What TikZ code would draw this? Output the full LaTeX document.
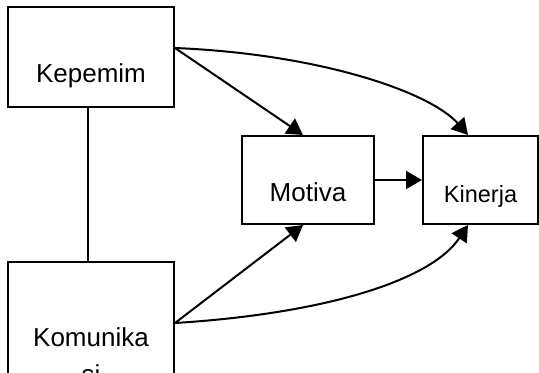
\documentclass[tikz,border=0pt]{standalone}
\usepackage{fontspec}
\setmainfont{Liberation Sans}
\usetikzlibrary{arrows.meta}
\tikzset{
  factor/.style={draw,line width=1pt,font=\fontsize{13}{18.5}\selectfont,align=center},
  link/.style={-{Triangle[length=8pt,width=9pt]},line width=1pt}
}

\begin{document}
\begin{tikzpicture}[x=0.5pt,y=-0.5pt]
\useasboundingbox (0,0) rectangle (539,373);
\clip (0,0) rectangle (539,373);
\node[factor,minimum width=83pt,minimum height=50pt,text height=30pt,text depth=4pt] (kepemim) at (91,57) {Kepemim};
\node[factor,minimum width=83pt,minimum height=85pt,text height=40pt,text depth=4pt] (komunikasi) at (91,347) {Komunika\\si};
\node[factor,minimum width=66pt,minimum height=44pt,text height=26pt,text depth=4pt] (motivasi) at (308,180) {Motiva};
\node[factor,minimum width=57.5pt,minimum height=44pt,text height=27pt,text depth=4pt,font=\fontsize{11.75}{14}\selectfont] (kinerja) at (480.5,180) {Kinerja};
\draw[line width=1pt] ([xshift=-1.5pt]kepemim.south) -- ([xshift=-1.5pt]komunikasi.north);
\draw[link] (motivasi) -- (kinerja);
\draw[link] ([yshift=4.5pt]kepemim.east) -- ([xshift=-2.5pt]motivasi.north);
\draw[link] ([yshift=4.5pt]kepemim.east) .. controls (320,54) and (430,92) .. ([xshift=-6.25pt]kinerja.north);
\draw[link] ([yshift=12pt]komunikasi.east) -- ([xshift=-2.5pt]motivasi.south);
\draw[link] ([yshift=12pt]komunikasi.east) .. controls (320,314) and (430,282) .. ([xshift=-6.25pt]kinerja.south);
\end{tikzpicture}
\end{document}
